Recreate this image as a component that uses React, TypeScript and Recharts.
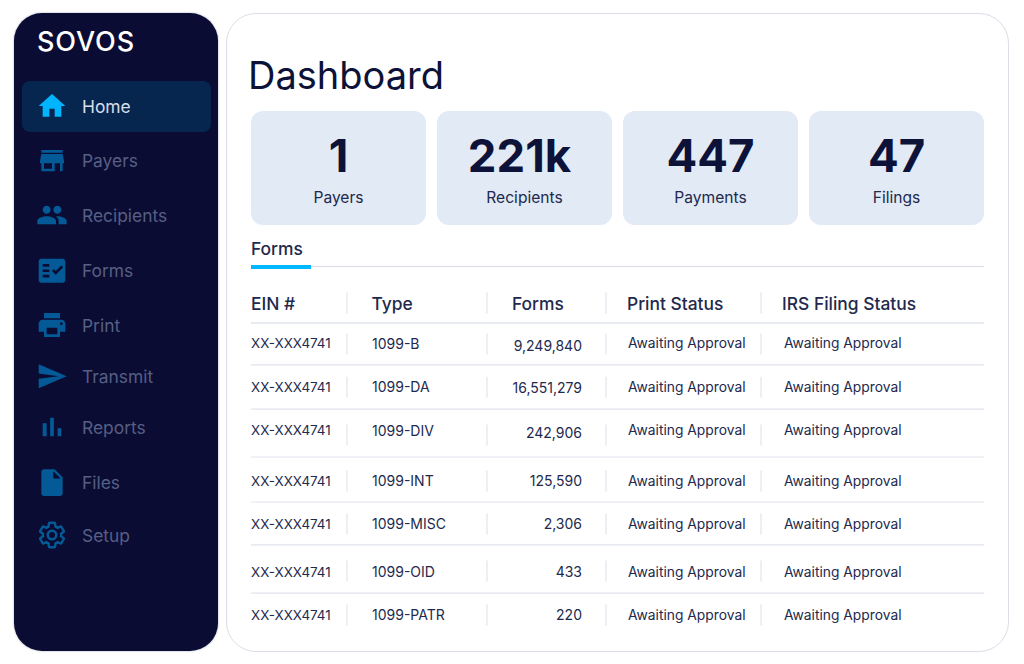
import React from "react";
import { ScatterChart, Scatter, XAxis, YAxis } from "recharts";

// ---- data ----
const navLabels = ["Home", "Payers", "Recipients", "Forms", "Print", "Transmit", "Reports", "Files", "Setup"];
const kpiValues = ["1", "221k", "447", "47"];
const kpiLabels = ["Payers", "Recipients", "Payments", "Filings"];
const tableHeaders = ["EIN #", "Type", "Forms", "Print Status", "IRS Filing Status"];
const einValues = ["XX-XXX4741", "XX-XXX4741", "XX-XXX4741", "XX-XXX4741", "XX-XXX4741", "XX-XXX4741", "XX-XXX4741"];
const typeValues = ["1099-B", "1099-DA", "1099-DIV", "1099-INT", "1099-MISC", "1099-OID", "1099-PATR"];
const formCounts = ["9,249,840", "16,551,279", "242,906", "125,590", "2,306", "433", "220"];
const printStatus = ["Awaiting Approval", "Awaiting Approval", "Awaiting Approval", "Awaiting Approval", "Awaiting Approval", "Awaiting Approval", "Awaiting Approval"];
const irsStatus = ["Awaiting Approval", "Awaiting Approval", "Awaiting Approval", "Awaiting Approval", "Awaiting Approval", "Awaiting Approval", "Awaiting Approval"];

// ---- layout / style (small nudges on top of the library's point scales) ----
const W = 1024;
const H = 664;
const FONT = "Inter, 'Noto Sans', sans-serif";
const INK = "#0c1238";
const TEXT = "#22294d";
const RULE = "#e2e4ee";
const navNudge = [0, 1, 1.75, 3.9, 4.5, 2, -0.75, 1.2, 0];
const kpiXNudge = [0, -5, 0, 0];
const rowNudge = [0.8, -4.2, -5.2, -6.7, -0.4, -2, 1.3, -0.3];
const formsNudge = [0.8, -2.5, -5, -4.7, -0.4, -2, 1.3, -0.3];
const sepNudge = [0, -3.5, -5, -1.7, -0.3, -1.9, 0.6, 0];
const ruleOffset = [20, 17.4, 16.9, 20.3, 20.7, 19.1, 22.6, null];
const headXNudge = [0, -12.75, -5.5, -23.75, -2];
const cellXNudge = [0, -12.25, 64.5, -22.75, 0];
const cellSize = [13.4, 14, 14, 13.8, 13.8];
const sepXNudge = [null, -37.25, -30.5, -44.75, -23];

const iconPaths = [
  "M10 20v-6h4v6h5v-8h3L12 3 2 12h3v8z",
  "M20 4H4v2h16V4zm1 10v-2l-1-5H4l-1 5v2h1v6h10v-6h4v6h2v-6h1zm-9 4H6v-4h6v4z",
  "M16 11c1.66 0 2.99-1.34 2.99-3S17.66 5 16 5c-1.66 0-3 1.34-3 3s1.34 3 3 3zm-8 0c1.66 0 2.99-1.34 2.99-3S9.66 5 8 5C6.34 5 5 6.34 5 8s1.34 3 3 3zm0 2c-2.33 0-7 1.17-7 3.5V19h14v-2.5c0-2.33-4.67-3.5-7-3.5zm8 0c-.29 0-.62.02-.97.05 1.16.84 1.97 1.97 1.97 3.45V19h6v-2.5c0-2.33-4.67-3.5-7-3.5z",
  "M20 3H4c-1.1 0-2 .9-2 2v14c0 1.1.9 2 2 2h16c1.1 0 2-.9 2-2V5c0-1.1-.9-2-2-2zM10 17H5v-2h5v2zm0-4H5v-2h5v2zm0-4H5V7h5v2zm4.82 6L12 12.16l1.41-1.41 1.41 1.42L18.99 8l1.42 1.42L14.82 15z",
  "M19 8H5c-1.66 0-3 1.34-3 3v6h4v4h12v-4h4v-6c0-1.66-1.34-3-3-3zm-3 11H8v-5h8v5zm3-7c-.55 0-1-.45-1-1s.45-1 1-1 1 .45 1 1-.45 1-1 1zm-1-9H6v4h12V3z",
  "M2.01 21L23 12 2.01 3 2 10l15 2-15 2z",
  "M5 9.2h3V19H5zM10.6 5h2.8v14h-2.8zm5.6 8H19v6h-2.8z",
  "M14 2H6c-1.1 0-1.99.9-1.99 2L4 20c0 1.1.89 2 1.99 2H18c1.1 0 2-.9 2-2V8l-6-6zm-1 7V3.5L18.5 9H13z",
  "M19.43 12.98c.04-.32.07-.64.07-.98s-.03-.66-.07-.98l2.11-1.65c.19-.15.24-.42.12-.64l-2-3.46c-.12-.22-.39-.3-.61-.22l-2.49 1c-.52-.4-1.08-.73-1.69-.98l-.38-2.65C14.46 2.18 14.25 2 14 2h-4c-.25 0-.46.18-.49.42l-.38 2.65c-.61.25-1.17.59-1.69.98l-2.49-1c-.23-.09-.49 0-.61.22l-2 3.46c-.13.22-.07.49.12.64l2.11 1.65c-.04.32-.07.65-.07.98s.03.66.07.98l-2.11 1.65c-.19.15-.24.42-.12.64l2 3.46c.12.22.39.3.61.22l2.49-1c.52.4 1.08.73 1.69.98l.38 2.65c.03.24.24.42.49.42h4c.25 0 .46-.18.49-.42l.38-2.65c.61-.25 1.17-.59 1.69-.98l2.49 1c.23.09.49 0 .61-.22l2-3.46c.12-.22.07-.49-.12-.64l-2.11-1.65zM12 15.5c-1.93 0-3.5-1.57-3.5-3.5s1.57-3.5 3.5-3.5 3.5 1.57 3.5 3.5-1.57 3.5-3.5 3.5z",
];

// ---- tables built from the arrays ----
const navData = navLabels.map((label, i) => ({ col: "nav", row: label, label, i }));
const kpiData = kpiValues.map((value, i) => ({ col: kpiLabels[i], row: "kpi", value, label: kpiLabels[i], i }));
const rowKeys = ["head", ...typeValues];
const columns = [einValues, typeValues, formCounts, printStatus, irsStatus];
const tableData = rowKeys.flatMap((rowKey, r) =>
  tableHeaders.map((header, c) => ({
    col: header,
    row: rowKey,
    r,
    c,
    text: r === 0 ? header : columns[c][r - 1],
  })),
);

const pos = (p: any) => ({
  x: p.cx ?? p.x + (p.width ?? 0) / 2,
  y: p.cy ?? p.y + (p.height ?? 0) / 2,
});

function NavMark(props: any) {
  const { x, y: y0 } = pos(props);
  const { label, i } = props.payload;
  const y = y0 + navNudge[i];
  const active = i === 0;
  const size = 32;
  const color = active ? "#00b4ff" : "#045a96";
  const gear = i === 8;
  const scale = gear ? 1.22 : size / 24;
  return (
    <g>
      {active && <rect x={22} y={y - 25} width={189} height={51} rx={8} fill="#062650" />}
      <path
        transform={`translate(${x - 12 * scale} ${y - 12 * scale}) scale(${scale})`}
        d={iconPaths[i]}
        fill={gear ? "none" : color}
        stroke={gear ? color : "none"}
        strokeWidth={gear ? 2 : 0}
      />
      <text
        x={x + 30}
        y={y}
        dominantBaseline="central"
        fontFamily={FONT}
        fontSize={17.4}
        fill={active ? "#d8deea" : "#565f84"}
      >
        {label}
      </text>
    </g>
  );
}

function KpiMark(props: any) {
  const { x, y } = pos(props);
  const { value, label, i } = props.payload;
  return (
    <g>
      <rect x={x - 87.5} y={y - 57} width={175} height={114} rx={12} fill="#e1eaf5" />
      <text x={x + kpiXNudge[i]} y={y - 12.5} textAnchor="middle" dominantBaseline="central" fontFamily={FONT} fontSize={45.5} fontWeight={700} fill={INK}>
        {value}
      </text>
      <text x={x} y={y + 29.5} textAnchor="middle" dominantBaseline="central" fontFamily={FONT} fontSize={15.6} fill={TEXT}>
        {label}
      </text>
    </g>
  );
}

function CellMark(props: any) {
  const { x, y } = pos(props);
  const { r, c, text } = props.payload;
  const head = r === 0;
  const ty = y + (c === 2 ? formsNudge[r] : rowNudge[r]);
  const tx = x + (head ? headXNudge[c] : cellXNudge[c]);
  const sepDx = sepXNudge[c];
  const off = ruleOffset[r];
  return (
    <g>
      {c === 0 && off != null && (
        <line x1={251} x2={984} y1={y + off} y2={y + off} stroke={RULE} strokeWidth={head ? 1.6 : 1.2} />
      )}
      {sepDx != null && (
        <line x1={x + sepDx} x2={x + sepDx} y1={y + sepNudge[r] - 10.5} y2={y + sepNudge[r] + 10.5} stroke={RULE} strokeWidth={1.2} />
      )}
      <text
        x={tx}
        y={ty}
        textAnchor={!head && c === 2 ? "end" : "start"}
        dominantBaseline="central"
        fontFamily={FONT}
        fontSize={head ? 17.4 : cellSize[c]}
        fontWeight={head ? 500 : 400}
        fill={TEXT}
      >
        {text}
      </text>
    </g>
  );
}

const layer: React.CSSProperties = { position: "absolute", left: 0, top: 0 };

function PointChart({ data, margin, shape }: any) {
  return (
    <div style={layer}>
      <ScatterChart width={W} height={H} margin={margin}>
        <XAxis type="category" dataKey="col" scale="point" allowDuplicatedCategory={false} hide />
        <YAxis type="category" dataKey="row" scale="point" allowDuplicatedCategory={false} reversed hide />
        <Scatter data={data} shape={shape} isAnimationActive={false} />
      </ScatterChart>
    </div>
  );
}

export default function App() {
  return (
    <div style={{ position: "absolute", left: 0, top: 0, width: W, height: H, background: "#fff", overflow: "hidden", fontFamily: FONT }}>
      <div style={{ ...layer, left: 14, top: 13, width: 204, height: 638, borderRadius: 28, background: "#0a0c33", boxShadow: "0 0 2px rgba(40,45,90,.45)" }} />
      <div style={{ ...layer, left: 225.5, top: 12.5, width: 781, height: 637, borderRadius: 30, background: "#fff", border: "1px solid #dcdde8" }} />
      <div style={{ ...layer, left: 37, top: 24, fontSize: 27, lineHeight: "36px", fontWeight: 500, letterSpacing: 0.9, color: "#fff" }}>SOVOS</div>
      <div style={{ ...layer, left: 248, top: 51, fontSize: 38, lineHeight: "48px", fontWeight: 400, color: INK }}>Dashboard</div>
      <div style={{ ...layer, left: 251, top: 238, fontSize: 17.4, lineHeight: "22px", fontWeight: 500, color: TEXT }}>Forms</div>
      <div style={{ ...layer, left: 251, top: 266, width: 733, height: 1, background: "#d9dbe8" }} />
      <div style={{ ...layer, left: 251, top: 265, width: 60, height: 4, background: "#00b8ff" }} />
      <PointChart data={navData} margin={{ left: 22, right: 942, top: 106, bottom: H - 535 }} shape={NavMark} />
      <PointChart data={kpiData} margin={{ left: 338.5, right: 127.5, top: 111, bottom: H - 225 }} shape={KpiMark} />
      <PointChart data={tableData} margin={{ left: 251, right: W - 784, top: 303, bottom: H - 615 }} shape={CellMark} />
    </div>
  );
}
